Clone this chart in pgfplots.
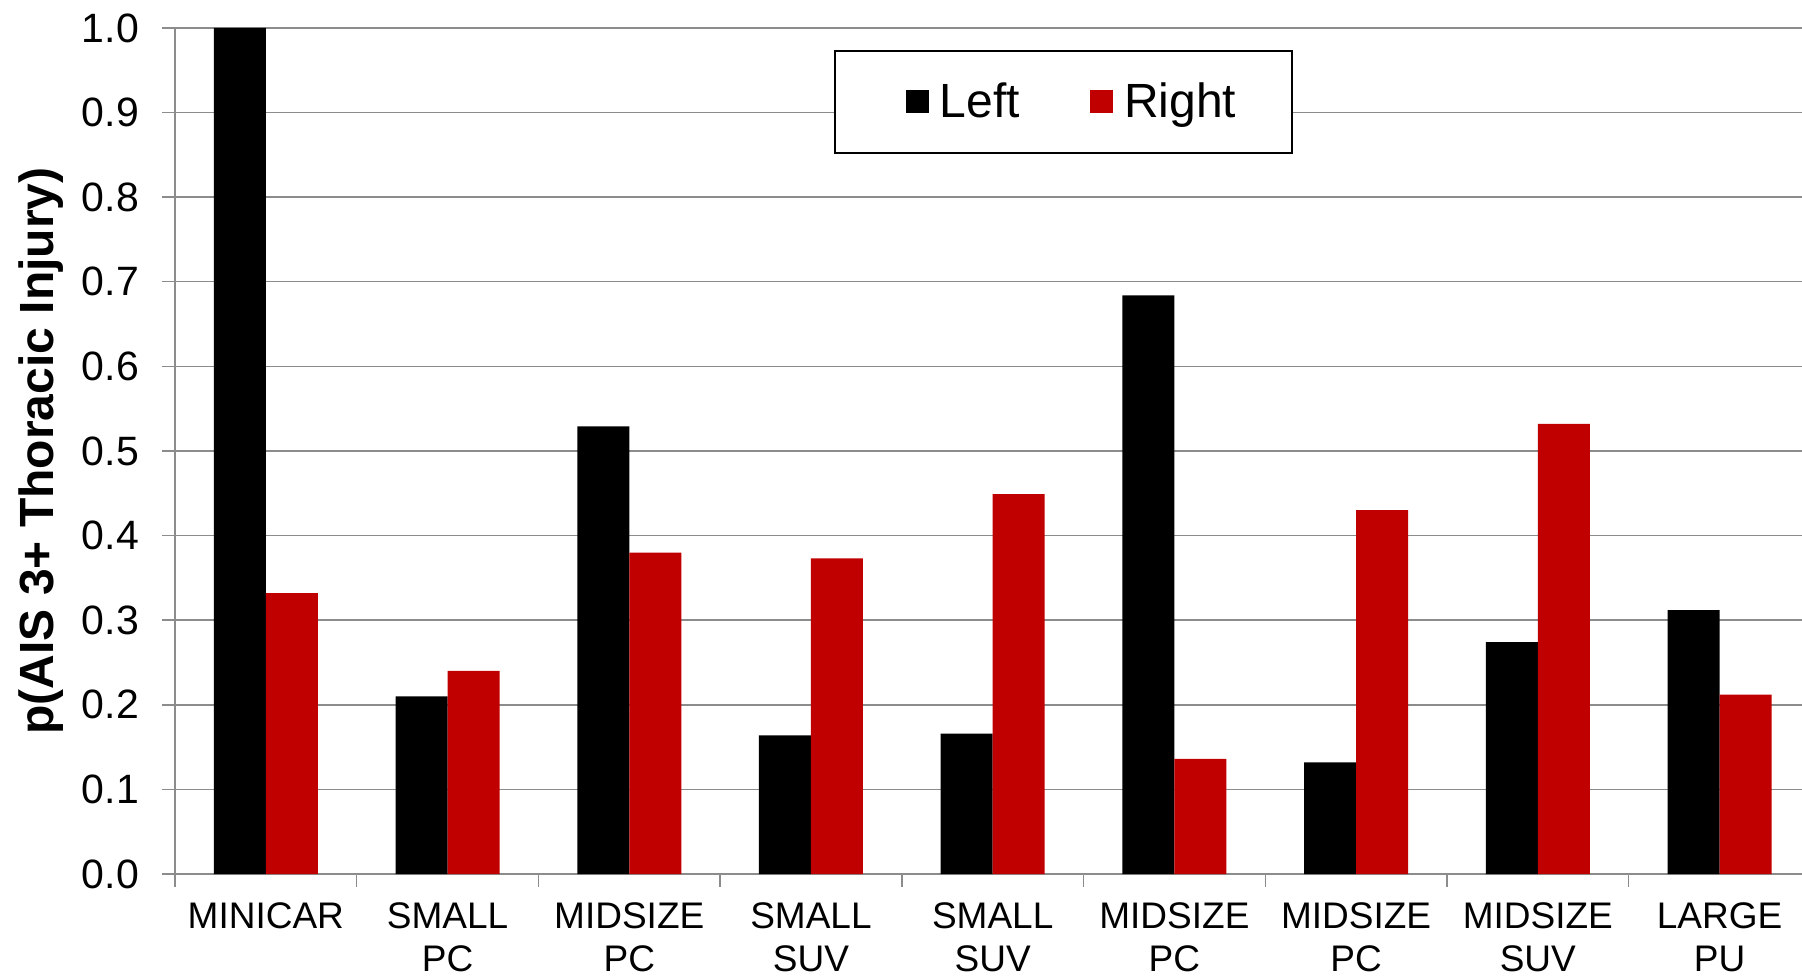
\documentclass[border=0pt]{standalone}
\usepackage{fontspec}
\setmainfont{Liberation Sans}
\usepackage{pgfplots}
\pgfplotsset{compat=1.18}

\definecolor{barred}{HTML}{C00000}
\definecolor{gridgray}{HTML}{8C8C8C}

\begin{document}
\begin{tikzpicture}
\begin{axis}[
  name=ax,
  anchor=south west,
  scale only axis,
  width=813.5bp, height=423bp,
  xmin=-0.5, xmax=8.454,
  ymin=0, ymax=1.0,
  ybar=0pt,
  bar width=26bp,
  axis x line*=bottom,
  axis y line*=left,
  axis line style={gridgray, line width=0.7bp},
  ymajorgrids,
  grid style={gridgray, line width=0.7bp},
  ytick={0,0.1,...,1.0},
  /pgf/number format/fixed,
  /pgf/number format/fixed zerofill,
  /pgf/number format/precision=1,
  /pgf/number format/assume math mode=true,
  yticklabel style={font=\fontsize{20.5bp}{23bp}\selectfont, anchor=east, xshift=-8bp},
  xtick={0,...,8},
  xticklabels={MINICAR,{SMALL\\PC},{MIDSIZE\\PC},{SMALL\\SUV},{SMALL\\SUV},{MIDSIZE\\PC},{MIDSIZE\\PC},{MIDSIZE\\SUV},{LARGE\\PU}},
  xticklabel style={font=\fontsize{18.5bp}{21.5bp}\selectfont, align=center, anchor=north, yshift=-4.5bp},
  major x tick style={draw=none},
  minor xtick={-0.5,0.5,...,7.5},
  minor x tick style={gridgray, line width=0.7bp},
  minor tick length=6.5bp,
  major tick length=6.5bp,
  tick align=outside,
  y tick style={gridgray, line width=0.7bp},
  ylabel={\textbf{p(AIS 3+ Thoracic Injury)}},
  ylabel style={font=\fontsize{24bp}{28bp}\selectfont, at={(axis description cs:-0.0825,0.5)}, anchor=center, rotate=0},
  legend columns=2,
  legend style={
    at={(axis description cs:0.405,0.974)}, anchor=north west,
    draw=black, line width=1bp,
    font=\fontsize{24bp}{27bp}\selectfont,
    inner xsep=28bp, inner ysep=16bp,
    nodes={inner sep=0bp},
    column sep=5.5bp,
    /tikz/every even column/.append style={column sep=27.5bp},
  },
  clip=false,
]
\addplot[fill=black, draw=none,
  legend image code/.code={\path (0bp,0bp); \fill[black] (7.5bp,-5.75bp) rectangle (19bp,5.75bp);}]
  coordinates {(0,1.000) (1,0.210) (2,0.529) (3,0.164) (4,0.166) (5,0.684) (6,0.132) (7,0.274) (8,0.312)};
\addplot[fill=barred, draw=none,
  legend image code/.code={\path (0bp,0bp); \fill[barred] (7.5bp,-5.75bp) rectangle (19bp,5.75bp);}]
  coordinates {(0,0.332) (1,0.240) (2,0.380) (3,0.373) (4,0.449) (5,0.136) (6,0.430) (7,0.532) (8,0.212)};
\legend{Left, Right}
\end{axis}
\pgfresetboundingbox
\path[use as bounding box] ([shift={(-87.5bp,-51.5bp)}]ax.south west) rectangle ([shift={(813.5bp,437bp)}]ax.south west);
\end{tikzpicture}
\end{document}
